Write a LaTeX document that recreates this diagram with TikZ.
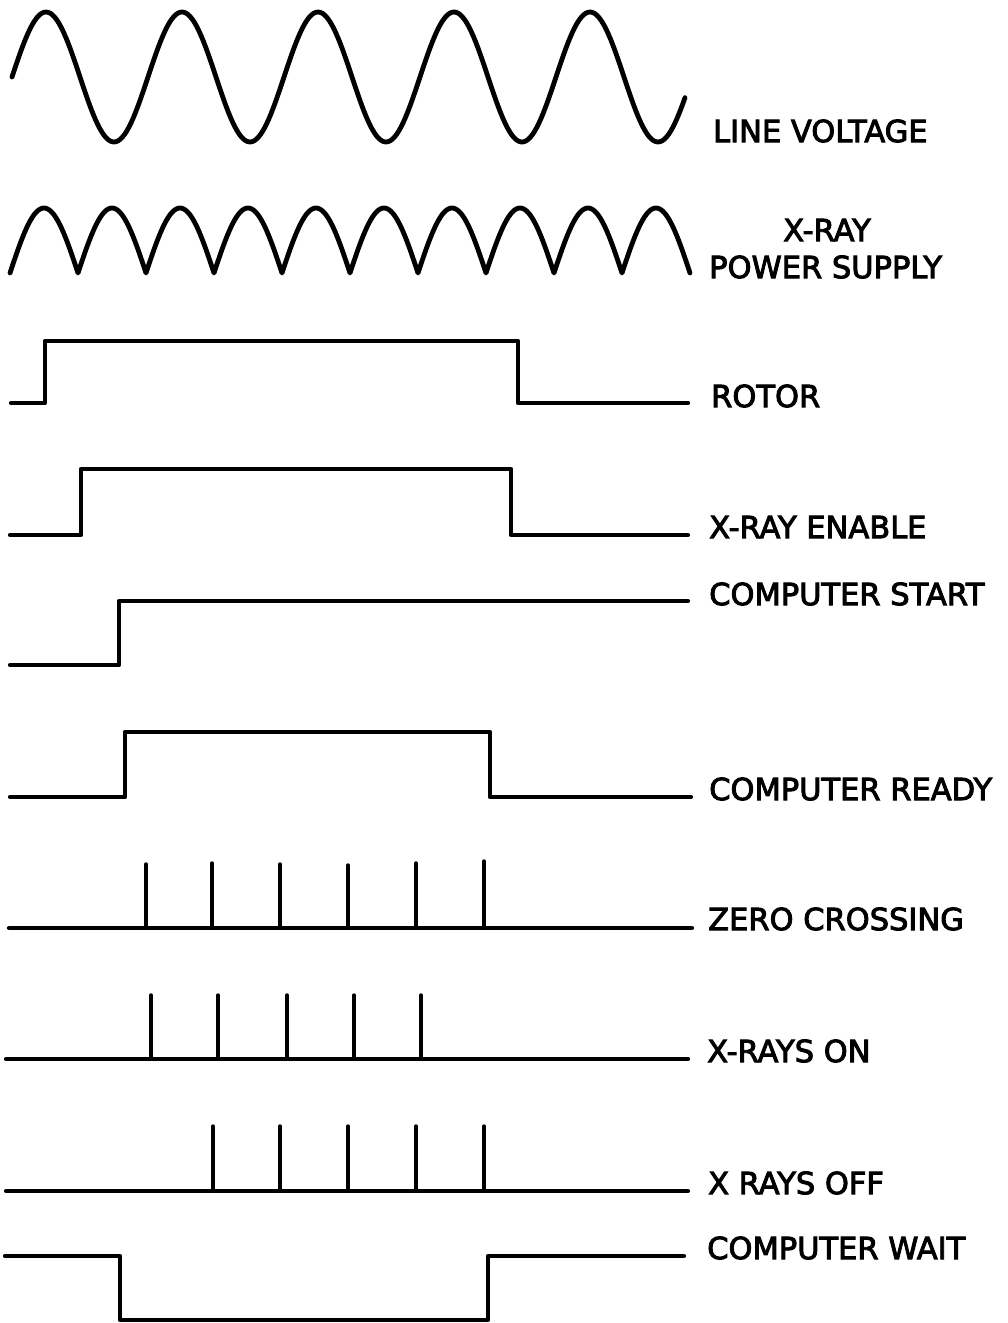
\documentclass[tikz,border=0pt]{standalone}
\usepackage{fontspec}
\newfontfamily\lblfont[FakeBold=3]{DejaVu Sans}
\tikzset{
  wave/.style={line width=4.8pt, line cap=round, line join=round},
  trace/.style={line width=4.2pt, line cap=round, line join=round},
  spike/.style={line width=3.4pt, line cap=round},
  lbl/.style={font=\lblfont\fontsize{30.5}{32}\selectfont, inner sep=0pt, anchor=west},
}
\begin{document}
\begin{tikzpicture}[x=1pt,y=-1pt]
\useasboundingbox (0,0) rectangle (1007,1323);
\fill[white] (0,0) rectangle (1007,1323);

% LINE VOLTAGE
\draw[wave] plot[domain=12:685, samples=300, variable=\t] (\t,{77-65*sin((\t-12)*2.6470588)});
\node[lbl] (lv) at (713,131) {LINE VOLTAGE};

% X-RAY POWER SUPPLY (full-wave rectified)
\draw[wave] plot[domain=10:690, samples=401, variable=\t] (\t,{273-65*abs(sin((\t-10)*2.6470588))});
\node[lbl,anchor=center] (xr) at (827,230) {X-RAY};
\node[lbl] (ps) at (709,267) {POWER SUPPLY};

% ROTOR
\draw[trace] (11,403) -- (45,403) -- (45,341) -- (518,341) -- (518,403) -- (688,403);
\node[lbl] (rot) at (711,396) {ROTOR};

% X-RAY ENABLE
\draw[trace] (10,535) -- (81,535) -- (81,469) -- (511,469) -- (511,535) -- (688,535);
\node[lbl] (xe) at (709,527) {X-RAY ENABLE};

% COMPUTER START
\draw[trace] (10,665) -- (119,665) -- (119,601) -- (688,601);
\node[lbl] (cs) at (709,594) {COMPUTER START};

% COMPUTER READY
\draw[trace] (10,797) -- (125,797) -- (125,732) -- (490,732) -- (490,797) -- (691,797);
\node[lbl] (cr) at (709,789) {COMPUTER READY};

% ZERO CROSSING
\coordinate (zcL) at (9,928);
\coordinate (zcR) at (692,928);
\draw[trace] (zcL) -- (zcR);
\foreach \xx/\tp in {146/864,212/863,280/864,348/865,416/863,484/861}
  \draw[spike] (\xx,928) -- (\xx,\tp);
\node[lbl] (zc) at (708,919) {ZERO CROSSING};

% X-RAYS ON
\draw[trace] (6,1059) -- (688,1059);
\foreach \xx in {151,218,287,354,421}
  \draw[spike] (\xx,1059) -- (\xx,995);
\node[lbl] (xon) at (707,1051) {X-RAYS ON};

% X RAYS OFF
\draw[trace] (6,1191) -- (688,1191);
\foreach \xx in {213,280,348,416,484}
  \draw[spike] (\xx,1191) -- (\xx,1126);
\node[lbl] (xoff) at (708,1183) {X RAYS OFF};

% COMPUTER WAIT
\draw[trace] (5,1256) -- (120,1256) -- (120,1320) -- (488,1320) -- (488,1256) -- (684,1256);
\node[lbl] (cw) at (707,1248) {COMPUTER WAIT};
\end{tikzpicture}
\end{document}
